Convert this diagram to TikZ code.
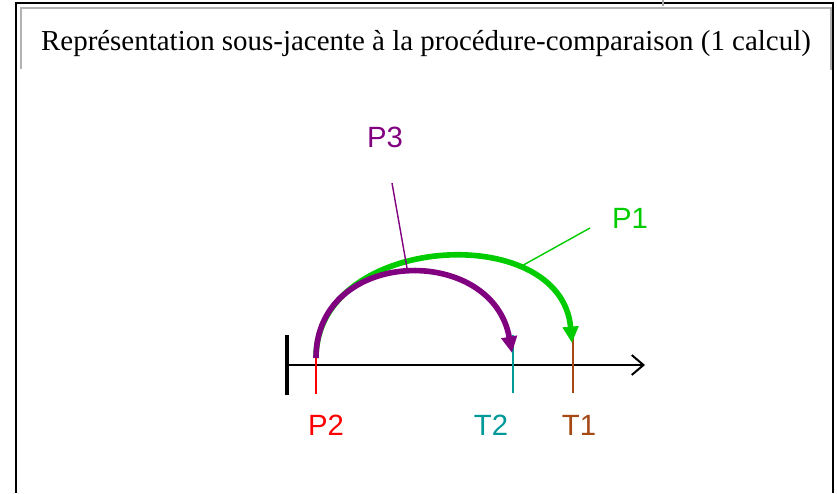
\documentclass[tikz,border=0pt]{standalone}
\usepackage{fontspec}
\setmainfont{Liberation Serif}
\newfontfamily\labelfont{Liberation Sans}
\usetikzlibrary{arrows.meta,positioning}

\definecolor{pgreen}{RGB}{0,204,0}
\definecolor{ppurple}{RGB}{128,0,128}
\definecolor{pred}{RGB}{255,0,0}
\definecolor{pteal}{RGB}{0,153,153}
\definecolor{pbrown}{RGB}{165,72,20}

\begin{document}
\begin{tikzpicture}[
  x=0.03cm, y=-0.03cm,
  every node/.style={font=\labelfont\fontsize{25}{30}\selectfont, inner sep=0pt},
  frame/.style ={line width=1.7pt, black},
  shade/.style ={line width=2pt, gray!60},
  axis/.style  ={line width=1.7pt, -{Straight Barb[length=10pt,width=17pt,line width=1.7pt]}},
  tick/.style  ={line width=1.7pt},
  jump/.style  ={line width=4.8pt, -{Triangle[length=14pt,width=13pt]}},
  lead/.style  ={line width=1.2pt}
]
\useasboundingbox (0,0) rectangle (837,493);

%% ---- Frame and title ----------------------------------------------
\draw[frame] (16,493) -- (16,3) -- (833,3) -- (833,493);
\draw[shade] (21,69) -- (21,8) -- (831,8) -- (831,70);
\draw[line width=1.2pt, gray!70] (663,0) -- (663,6);
\node[font=\rmfamily\fontsize{24.7}{30}\selectfont, anchor=base]
      (title) at (426,50)
      {Représentation sous-jacente à la procédure-comparaison (1 calcul)};

%% ---- Time axis ----------------------------------------------------
\coordinate (orig) at (287,365);
\coordinate (tip)  at (645,365);
\draw[line width=3.4pt] (287,335) -- (287,395);
\draw[axis] (orig) -- (tip);

%% ---- Ticks on the axis ------------------------------------------
\coordinate (p2top) at (316,358);
\coordinate (p2bot) at (316,394);
\coordinate (t2top) at (513,335);
\coordinate (t2bot) at (513,393);
\coordinate (t1top) at (573,337);
\coordinate (t1bot) at (573,393);
\draw[tick, pred]   (p2top) -- (p2bot);
\draw[tick, pteal]  (t2top) -- (t2bot);
\draw[tick, pbrown] (t1top) -- (t1bot);

\node[pred]   (P2) at (326,425) {P2};
\node[pteal]  (T2) at (491,425) {T2};
\node[pbrown] (T1) at (579,425) {T1};

%% ---- Jumps P1 and P3 ----------------------------------------------
\coordinate (t1end) at (572,343);
\coordinate (t2end) at (512,353);
\draw[jump, pgreen]  (p2top) to[out=90, in=95, looseness=1.24] (t1end);
\draw[jump, ppurple] (p2top) to[out=90, in=100, looseness=1.45] (t2end);

%% ---- Labels with leader lines -----------------------------------
\node[ppurple] (P3) at (385,137) {P3};
\coordinate (p3a) at (392,183);
\coordinate (p3b) at (407,268);
\draw[lead, ppurple] (p3a) -- (p3b);

\node[pgreen] (P1) at (630,218) {P1};
\coordinate (p1a) at (590,228);
\coordinate (p1b) at (518,268);
\draw[lead, pgreen] (p1a) -- (p1b);

\end{tikzpicture}
\end{document}
